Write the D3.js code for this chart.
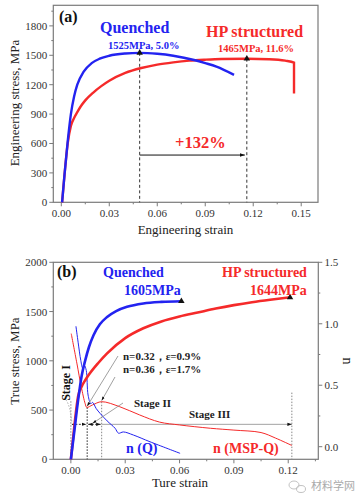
<!DOCTYPE html>
<html>
<head>
<meta charset="utf-8">
<script src="https://cdn.jsdelivr.net/npm/d3@7"></script>
<style>
  html, body { margin: 0; padding: 0; background: #fff; }
  svg { display: block; font-family: "Liberation Serif", "DejaVu Serif", serif; }
</style>
</head>
<body>
<div id="chart"></div>
<script>
(function() {
    /********************************************
     * DATA
     ********************************************/
    // panel (a): engineering curves [strain, stress MPa]
    const engQuenched = [[0.0005,0],[0.002,280],[0.004,620],[0.006,900],[0.008,1080],[0.01,1200],
        [0.014,1333],[0.019,1420],[0.024,1465],[0.03,1495],[0.04,1518],[0.049,1525],[0.06,1515],
        [0.07,1495],[0.083,1452],[0.09,1420],[0.097,1384],[0.108,1300]];
    const engHP = [[0.0005,0],[0.002,280],[0.004,600],[0.006,780],[0.008,860],[0.01,920],[0.012,975],
        [0.015,1040],[0.02,1120],[0.025,1185],[0.03,1240],[0.04,1320],[0.05,1370],[0.06,1405],
        [0.07,1428],[0.08,1445],[0.09,1455],[0.1,1462],[0.116,1465],[0.13,1460],[0.14,1445],
        [0.1455,1425],[0.1455,1110]];
    const engPeaks = [[0.049,1525],[0.116,1465]];
    const engTicksX = [0, 0.03, 0.06, 0.09, 0.12, 0.15];
    const engTicksY = [0, 300, 600, 900, 1200, 1500, 1800];

    // panel (b): true stress curves [strain, stress MPa]
    const trueQuenched = [[0,0],[0.002,300],[0.004,600],[0.006,850],[0.008,1010],[0.01,1140],
        [0.0125,1260],[0.016,1370],[0.02,1445],[0.025,1505],[0.031,1548],[0.04,1582],[0.05,1598],[0.061,1605]];
    const trueHP = [[0,0],[0.002,350],[0.004,640],[0.006,740],[0.008,805],[0.01,860],[0.015,975],
        [0.02,1075],[0.03,1230],[0.04,1330],[0.05,1400],[0.06,1450],[0.07,1490],[0.08,1530],
        [0.09,1565],[0.1,1595],[0.11,1620],[0.121,1644]];
    const truePeaks = [[0.061,1605],[0.121,1644]];
    // strain hardening exponent n [strain, n]
    const nQ = [[0.0028,0.98],[0.004,0.85],[0.0055,0.70],[0.0065,0.64],[0.0075,0.66],[0.0085,0.62],
        [0.0095,0.42],[0.011,0.35],[0.012,0.36],[0.014,0.31],[0.0162,0.27],[0.02,0.21],[0.0244,0.15],
        [0.0263,0.11],[0.029,0.12],[0.0345,0.095],[0.0437,0.04],[0.0603,-0.054]];
    const nMSP = [[0.0002,0.92],[0.0033,0.68],[0.0057,0.49],[0.0079,0.35],[0.0088,0.32],[0.012,0.34],
        [0.017,0.366],[0.027,0.325],[0.038,0.258],[0.049,0.20],[0.06,0.177],[0.077,0.15],
        [0.09,0.135],[0.105,0.115],[0.113,0.07],[0.122,0.01]];
    const stageBounds = [0, 0.009, 0.017, 0.122];
    const trueTicksX = [0, 0.03, 0.06, 0.09, 0.12];
    const trueTicksY = [0, 500, 1000, 1500, 2000];
    const nTicks = [0, 0.5, 1.0, 1.5];

    /********************************************
     * SETUP
     ********************************************/
    const width = 363, height = 503;
    const blue = "#2323f0", red = "#f52a2a", frame = "#7a7a7a", tickText = "#333";

    const svg = d3.select("#chart").append("svg")
        .attr("width", width).attr("height", height);

    const defs = svg.append("defs");
    defs.append("marker").attr("id", "arr").attr("viewBox", "0 0 10 10")
        .attr("refX", 10).attr("refY", 5).attr("markerWidth", 5).attr("markerHeight", 5)
        .attr("orient", "auto-start-reverse")
        .append("path").attr("d", "M0,1.5L10,5L0,8.5Z").attr("fill", "#111");

    const line = (xs, ys) => d3.line().x(d => xs(d[0])).y(d => ys(d[1])).curve(d3.curveMonotoneX);
    const lineC = (xs, ys) => d3.line().x(d => xs(d[0])).y(d => ys(d[1])).curve(d3.curveCatmullRom);

    function axes(g, xs, ys, xt, yt, xfmt, yMinorStep, xMinorStep) {
        const [x0, x1] = xs.range(), [y0, y1] = ys.range();
        const yd = ys.domain(), xd = xs.domain();
        const yMin = d3.range(0, yd[1] + 1e-9, yMinorStep).filter(v => !yt.includes(v));
        const xMin = d3.range(0, xd[1] + 1e-9, xMinorStep).filter(v => !xt.some(t => Math.abs(t - v) < 1e-9));
        g.selectAll(null).data(yMin).join("line")
            .attr("x1", x0).attr("x2", x0 - 2).attr("y1", d => ys(d)).attr("y2", d => ys(d))
            .attr("stroke", frame);
        g.selectAll(null).data(xMin).join("line")
            .attr("x1", d => xs(d)).attr("x2", d => xs(d)).attr("y1", y0).attr("y2", y0 + 2)
            .attr("stroke", frame);
        g.selectAll(null).data(yt).join("line")
            .attr("x1", x0).attr("x2", x0 - 4).attr("y1", d => ys(d)).attr("y2", d => ys(d))
            .attr("stroke", frame);
        g.selectAll(null).data(xt).join("line")
            .attr("x1", d => xs(d)).attr("x2", d => xs(d)).attr("y1", y0).attr("y2", y0 + 4)
            .attr("stroke", frame);
        g.selectAll(null).data(yt).join("text")
            .attr("x", x0 - 6).attr("y", d => ys(d) + 4).attr("text-anchor", "end")
            .attr("font-size", 11).attr("fill", tickText).text(d => d);
        g.selectAll(null).data(xt).join("text")
            .attr("x", d => xs(d)).attr("y", y0 + 15).attr("text-anchor", "middle")
            .attr("font-size", 11).attr("fill", tickText).text(d => xfmt(d));
        g.append("rect").attr("x", x0).attr("y", y1).attr("width", x1 - x0).attr("height", y0 - y1)
            .attr("fill", "none").attr("stroke", frame).attr("stroke-width", 1.2);
    }

    function label(g, x, y, txt, opts) {
        const t = g.append("text").attr("x", x).attr("y", y).text(txt)
            .attr("font-size", opts.size || 11).attr("fill", opts.fill || "#222");
        if (opts.bold) t.attr("font-weight", "bold");
        if (opts.anchor) t.attr("text-anchor", opts.anchor);
        if (opts.rotate) t.attr("transform", `rotate(${opts.rotate},${x},${y})`);
        return t;
    }

    const fmt2 = d3.format(".2f");

    /********************************************
     * PANEL (a)
     ********************************************/
    const xA = d3.scaleLinear().domain([-0.005, 0.1605]).range([53.3, 318]);
    const yA = d3.scaleLinear().domain([0, 2010]).range([202.3, 5.3]);
    const gA = svg.append("g");

    axes(gA, xA, yA, engTicksX, engTicksY, fmt2, 150, 0.015);

    // dashed guides at peak points
    gA.selectAll(null).data(engPeaks).join("line")
        .attr("x1", d => xA(d[0])).attr("x2", d => xA(d[0]))
        .attr("y1", d => yA(d[1])).attr("y2", yA(0))
        .attr("stroke", "#333").attr("stroke-width", 1).attr("stroke-dasharray", "3,2.5");

    gA.append("path").datum(engHP).attr("d", line(xA, yA))
        .attr("fill", "none").attr("stroke", red).attr("stroke-width", 2.4);
    gA.append("path").datum(engQuenched).attr("d", line(xA, yA))
        .attr("fill", "none").attr("stroke", blue).attr("stroke-width", 2.4);

    gA.selectAll(null).data(engPeaks).join("path")
        .attr("d", d3.symbol(d3.symbolTriangle, 18))
        .attr("transform", d => `translate(${xA(d[0])},${yA(d[1])})`).attr("fill", "#111");

    // +132% arrow
    gA.append("line").attr("x1", xA(engPeaks[0][0])).attr("x2", xA(engPeaks[1][0]) - 2)
        .attr("y1", yA(482)).attr("y2", yA(482))
        .attr("stroke", "#111").attr("stroke-width", 1).attr("marker-end", "url(#arr)");

    label(gA, 59, 22, "(a)", {size: 16, bold: true, fill: "#111"});
    label(gA, 100, 33, "Quenched", {size: 16, bold: true, fill: blue});
    label(gA, 206, 37, "HP structured", {size: 16, bold: true, fill: red});
    label(gA, 108, 49, "1525MPa, 5.0%", {size: 10.5, bold: true, fill: blue});
    label(gA, 218, 52, "1465MPa, 11.6%", {size: 10.5, bold: true, fill: red});
    label(gA, 175, 148, "+132%", {size: 16.5, bold: true, fill: red});
    label(gA, 185.5, 234, "Engineering strain", {size: 13, fill: "#222", anchor: "middle"});
    label(gA, 19, 103, "Engineering stress, MPa", {size: 13, fill: "#222", anchor: "middle", rotate: -90});

    /********************************************
     * PANEL (b)
     ********************************************/
    const xB = d3.scaleLinear().domain([-0.0097, 0.1366]).range([53.3, 318.3]);
    const yB = d3.scaleLinear().domain([0, 2000]).range([459.3, 262.3]);
    const nB = d3.scaleLinear().domain([-0.1025, 1.5]).range([459.3, 262.3]);
    const gB = svg.append("g");

    axes(gB, xB, yB, trueTicksX, trueTicksY, fmt2, 250, 0.015);

    // right n axis
    const nMinor = [0.25, 0.75, 1.25];
    gB.selectAll(null).data(nMinor).join("line")
        .attr("x1", 318.3).attr("x2", 320.3).attr("y1", d => nB(d)).attr("y2", d => nB(d)).attr("stroke", frame);
    gB.selectAll(null).data(nTicks).join("line")
        .attr("x1", 318.3).attr("x2", 322.3).attr("y1", d => nB(d)).attr("y2", d => nB(d)).attr("stroke", frame);
    gB.selectAll(null).data(nTicks).join("text")
        .attr("x", 324.5).attr("y", d => nB(d) + 4).attr("font-size", 11).attr("fill", tickText)
        .text(d => d.toFixed(1));

    // stage guides (dotted verticals)
    const guideTops = [0.37, 0.32, 0.366, 0.44];
    gB.selectAll(null).data(stageBounds).join("line")
        .attr("x1", d => xB(d)).attr("x2", d => xB(d))
        .attr("y1", (d, i) => nB(guideTops[i])).attr("y2", yB(0))
        .attr("stroke", (d, i) => i === 1 ? "#222" : "#888").attr("stroke-width", 1)
        .attr("stroke-dasharray", "1.5,1.5");

    // stage arrows
    const arrowY = yB(355);
    gB.append("line").attr("x1", xB(stageBounds[2])).attr("x2", xB(stageBounds[3]))
        .attr("y1", arrowY).attr("y2", arrowY).attr("stroke", "#999").attr("stroke-width", 0.9)
        .attr("marker-end", "url(#arr)");
    [[0, 1], [1, 2]].forEach(([a, b]) => {
        gB.append("line").attr("x1", xB(stageBounds[a]) + 1).attr("x2", xB(stageBounds[b]) - 1)
            .attr("y1", arrowY).attr("y2", arrowY).attr("stroke", "#222").attr("stroke-width", 0.9)
            .attr("stroke-dasharray", "2,1.5")
            .attr("marker-start", "url(#arr)").attr("marker-end", "url(#arr)");
    });

    // n curves (thin)
    gB.append("path").datum(nMSP).attr("d", lineC(xB, nB))
        .attr("fill", "none").attr("stroke", red).attr("stroke-width", 1);
    gB.append("path").datum(nQ).attr("d", lineC(xB, nB))
        .attr("fill", "none").attr("stroke", blue).attr("stroke-width", 1);

    // true stress curves (thick)
    gB.append("path").datum(trueHP).attr("d", line(xB, yB))
        .attr("fill", "none").attr("stroke", red).attr("stroke-width", 2.6);
    gB.append("path").datum(trueQuenched).attr("d", line(xB, yB))
        .attr("fill", "none").attr("stroke", blue).attr("stroke-width", 2.6);

    gB.selectAll(null).data(truePeaks).join("path")
        .attr("d", d3.symbol(d3.symbolTriangle, 18))
        .attr("transform", d => `translate(${xB(d[0])},${yB(d[1])})`).attr("fill", "#111");

    // leader lines for annotations
    const leaders = [
        [[118, 356], [xB(0.009), nB(0.33)]],
        [[115, 377], [xB(0.017), nB(0.375)]],
        [[123, 403], [xB(0.012), nB(0.19)]]
    ];
    leaders.forEach(([p, q]) => {
        gB.append("line").attr("x1", p[0]).attr("y1", p[1]).attr("x2", q[0]).attr("y2", q[1])
            .attr("stroke", "#888").attr("stroke-width", 0.8).attr("marker-end", "url(#arr)");
    });
    gB.append("path").attr("d", `M66,400 Q70,405 ${xB(0) + 1},${arrowY - 2}`)
        .attr("fill", "none").attr("stroke", "#999").attr("stroke-width", 0.8)
        .attr("stroke-dasharray", "1.5,1.5");

    label(gB, 57, 277, "(b)", {size: 16, bold: true, fill: "#111"});
    label(gB, 103, 277, "Quenched", {size: 14, bold: true, fill: blue});
    label(gB, 124, 295, "1605MPa", {size: 14, bold: true, fill: blue});
    label(gB, 222, 277, "HP structured", {size: 14, bold: true, fill: red});
    label(gB, 250, 295, "1644MPa", {size: 14, bold: true, fill: red});
    label(gB, 123, 360, "n=0.32\uFF0C\u03B5=0.9%", {size: 11, bold: true, fill: "#222"});
    label(gB, 123, 373, "n=0.36\uFF0C\u03B5=1.7%", {size: 11, bold: true, fill: "#222"});
    label(gB, 134, 407, "Stage II", {size: 11, bold: true, fill: "#222"});
    label(gB, 189, 418, "Stage III", {size: 11, bold: true, fill: "#222"});
    label(gB, 70, 383, "Stage I", {size: 12, bold: true, fill: "#111", anchor: "middle", rotate: -90});
    label(gB, 126, 453, "n (Q)", {size: 14, bold: true, fill: blue});
    label(gB, 213, 453, "n (MSP-Q)", {size: 14, bold: true, fill: red});
    label(gB, 180, 487, "Ture strain", {size: 13, fill: "#222", anchor: "middle"});
    label(gB, 19, 361, "True stress, MPa", {size: 13, fill: "#222", anchor: "middle", rotate: -90});
    label(gB, 343, 361, "n", {size: 14, fill: "#222", anchor: "middle", rotate: 90});

    // watermark
    const wm = svg.append("g").attr("fill", "none").attr("stroke", "#bbb").attr("stroke-width", 0.9);
    wm.append("ellipse").attr("cx", 294).attr("cy", 485).attr("rx", 5).attr("ry", 4);
    wm.append("ellipse").attr("cx", 301).attr("cy", 489).attr("rx", 4.5).attr("ry", 3.5);
    label(svg, 311, 490, "材料学网", {size: 11, fill: "#aaa"})
        .attr("font-family", "Noto Sans CJK SC");
})();
</script>
</body>
</html>
